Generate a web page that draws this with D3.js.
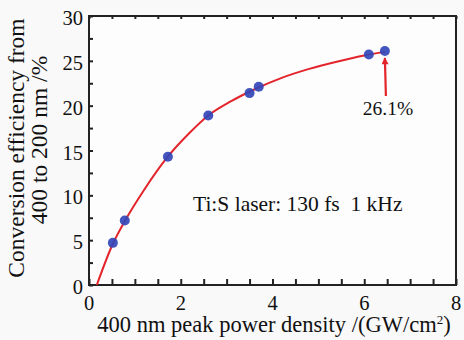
<!DOCTYPE html>
<html>
<head>
<meta charset="utf-8">
<script src="https://cdn.jsdelivr.net/npm/d3@7"></script>
<style>
  html, body { margin: 0; padding: 0; background: #f9f9f9; }
  svg { display: block; }
</style>
</head>
<body>
<svg id="chart" width="464" height="340"></svg>
<script>
// Measured conversion efficiency vs. 400 nm peak power density
const power = [0.52, 0.78, 1.72, 2.6, 3.5, 3.7, 6.1, 6.45];
const efficiency = [4.7, 7.2, 14.3, 18.9, 21.4, 22.1, 25.7, 26.1];

// Smooth trend line through the measurements
const fitPower = [0.17, 0.52, 0.8, 1.2, 1.7, 2.2, 2.6, 3.1, 3.6, 4.2, 4.8, 5.4, 6.0, 6.45];
const fitEff = [0, 4.6, 7.3, 10.6, 14.2, 17.0, 18.9, 20.5, 21.8, 23.1, 24.1, 24.9, 25.6, 26.0];

const xTickLabels = [0, 2, 4, 6, 8];
const yTickLabels = [0, 5, 10, 15, 20, 25, 30];
const peakLabel = "26.1%";
const peakValue = 26.1;
const peakPower = 6.45;

const FONT = '"Liberation Serif"';

const svg = d3.select("#chart");
const m = { left: 89, right: 456, top: 16, bottom: 285 };

const x = d3.scaleLinear().domain([0, 8]).range([m.left, m.right]);
const y = d3.scaleLinear().domain([0, 30]).range([m.bottom, m.top]);

const red = "#e3242b";
const blue = "#3346b8";
const ink = "#111";

function label(sel, size) {
  return sel.style("font-family", FONT).attr("font-size", size).attr("fill", ink);
}

// Plot frame
svg.append("rect")
  .attr("x", m.left).attr("y", m.top)
  .attr("width", m.right - m.left).attr("height", m.bottom - m.top)
  .attr("fill", "#fdfdfd").attr("stroke", "#222").attr("stroke-width", 2);

// Ticks pointing inward
const xTicks = d3.range(0, 8.01, 0.5);
const yTicks = d3.range(0, 30.01, 2.5);

const bottomAxis = d3.axisTop(x).tickValues(xTicks).tickSize(6).tickFormat("");
svg.append("g").attr("transform", `translate(0,${m.bottom})`).call(bottomAxis)
  .call(g => g.select(".domain").remove())
  .call(g => g.selectAll("line").attr("stroke", "#222").attr("stroke-width", 2));

const topAxis = d3.axisBottom(x).tickValues(xTicks).tickSize(3).tickFormat("");
svg.append("g").attr("transform", `translate(0,${m.top})`).call(topAxis)
  .call(g => g.select(".domain").remove())
  .call(g => g.selectAll("line").attr("stroke", "#222").attr("stroke-width", 2));

const leftAxis = d3.axisRight(y).tickValues(yTicks).tickSize(4).tickFormat("");
svg.append("g").attr("transform", `translate(${m.left},0)`).call(leftAxis)
  .call(g => g.select(".domain").remove())
  .call(g => g.selectAll("line").attr("stroke", "#222").attr("stroke-width", 2));

// Tick labels
svg.append("g").selectAll("text").data(xTickLabels).join("text")
  .attr("x", d => x(d)).attr("y", 310)
  .attr("text-anchor", "middle")
  .call(label, 20.5)
  .text(d => d);

svg.append("g").selectAll("text").data(yTickLabels).join("text")
  .attr("x", 83).attr("y", d => y(d) + 9)
  .attr("text-anchor", "end")
  .call(label, 20.5)
  .text(d => d);

// Axis titles
const xTitle = svg.append("text")
  .attr("x", 274).attr("y", 332)
  .attr("text-anchor", "middle")
  .call(label, 22.5);
xTitle.append("tspan").text("400 nm peak power density /(GW/cm");
xTitle.append("tspan").attr("dy", -8).attr("font-size", 13).text("2");
xTitle.append("tspan").attr("dy", 8).text(")");

svg.append("text")
  .attr("transform", "translate(24,148) rotate(-90)")
  .attr("text-anchor", "middle")
  .call(label, 23.5)
  .text("Conversion efficiency from");
svg.append("text")
  .attr("transform", "translate(47,140) rotate(-90)")
  .attr("text-anchor", "middle")
  .call(label, 23.5)
  .text("400 to 200 nm /%");

// Trend line
const line = d3.line().x((d, i) => x(fitPower[i])).y(d => y(d)).curve(d3.curveMonotoneX);
svg.append("path").datum(fitEff)
  .attr("d", line).attr("fill", "none")
  .attr("stroke", red).attr("stroke-width", 2);

// Measurement points
svg.append("g").selectAll("circle").data(efficiency).join("circle")
  .attr("cx", (d, i) => x(power[i])).attr("cy", d => y(d))
  .attr("r", 5).attr("fill", blue).attr("fill-opacity", 0.92);

// Annotation arrow for the peak value
svg.append("defs").append("marker")
  .attr("id", "arrowHead").attr("viewBox", "0 0 10 10")
  .attr("refX", 9).attr("refY", 5)
  .attr("markerWidth", 10).attr("markerHeight", 7)
  .attr("markerUnits", "userSpaceOnUse")
  .attr("orient", "auto")
  .append("path").attr("d", "M0,0 L10,5 L0,10 Z").attr("fill", red);

svg.append("line")
  .attr("x1", x(peakPower) + 1).attr("y1", 96)
  .attr("x2", x(peakPower)).attr("y2", y(peakValue) + 7)
  .attr("stroke", red).attr("stroke-width", 2.2)
  .attr("marker-end", "url(#arrowHead)");

svg.append("text")
  .attr("x", 388).attr("y", 115)
  .attr("text-anchor", "middle")
  .call(label, 19.5)
  .text(peakLabel);

svg.append("text")
  .attr("x", 193).attr("y", 211)
  .style("white-space", "pre")
  .call(label, 21.5)
  .text("Ti:S laser: 130 fs  1 kHz");
</script>
</body>
</html>
